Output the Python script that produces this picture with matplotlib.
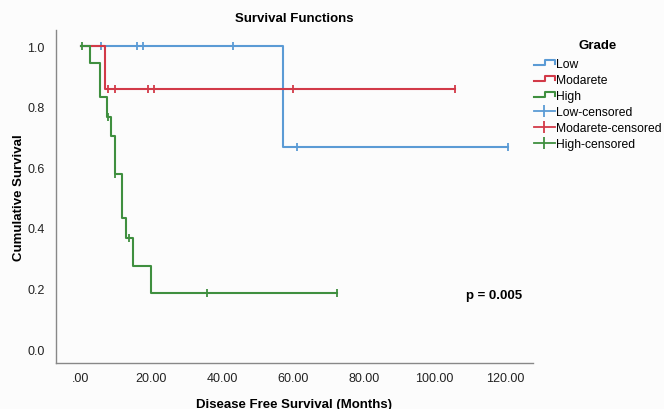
import numpy as np
import matplotlib
matplotlib.use("Agg")
import matplotlib.pyplot as plt
from matplotlib.lines import Line2D
from matplotlib.legend_handler import HandlerBase

plt.rcParams['font.family'] = ['Liberation Sans', 'DejaVu Sans']

# Kaplan-Meier step data
low_t = [0, 57.2, 120.8]
low_s = [1.0, 0.667, 0.667]
low_cens = [5.7, 15.9, 17.7, 43.0, 61.2, 120.8]

mod_t = [0, 6.9, 105.8]
mod_s = [1.0, 0.857, 0.857]
mod_cens = [7.6, 9.7, 18.9, 20.8, 60.0, 105.8]

high_t = [0, 2.6, 5.5, 7.5, 8.6, 9.6, 11.8, 12.9, 14.7, 19.8, 72.5]
high_s = [1.0, 0.944, 0.833, 0.765, 0.703, 0.578, 0.432, 0.365, 0.275, 0.185, 0.185]
high_cens = [0.3, 7.8, 9.8, 13.8, 35.7, 72.5]

groups = ["Low", "Modarete", "High"]
colors = ["#5b9bd5", "#d23a48", "#3f8f3f"]
xticks = [0, 20, 40, 60, 80, 100, 120]
xticklabels = [".00", "20.00", "40.00", "60.00", "80.00", "100.00", "120.00"]
yticks = [0.0, 0.2, 0.4, 0.6, 0.8, 1.0]


def step_value(t, s, x):
    idx = np.searchsorted(t, x, side='right') - 1
    return np.array(s)[idx]


class StepHandler(HandlerBase):
    def create_artists(self, legend, orig_handle, xdescent, ydescent,
                       width, height, fontsize, trans):
        x = np.array([0, 0.55, 0.55, 1.0, 1.0]) * width - xdescent
        y = np.array([0.2, 0.2, 0.8, 0.8, 0.35]) * height - ydescent
        ln = Line2D(x, y, color=orig_handle.get_color(), lw=orig_handle.get_linewidth(),
                    transform=trans)
        return [ln]


fig = plt.figure(figsize=(6.64, 4.1), dpi=100)
fig.patch.set_facecolor('#fcfcfc')
ax = fig.add_axes([55.5 / 664, 1 - 364 / 410, (533 - 55.5) / 664, (364 - 31) / 410])
ax.set_facecolor('#fcfcfc')

data = [(low_t, low_s, low_cens), (mod_t, mod_s, mod_cens), (high_t, high_s, high_cens)]
step_handles = []
cens_handles = []
for (t, s, c), name, col in zip(data, groups, colors):
    ln, = ax.step(t, s, where='post', color=col, lw=1.5)
    step_handles.append(ln)
    ax.plot(c, step_value(t, s, c), ls='none', marker='|', ms=5.5, mew=1.3, color=col)
    cens_handles.append(Line2D([], [], color=col, lw=1.3, marker='|', ms=8, mew=1.3))

ax.set_xlim(-7.1, 127.8)
ax.set_ylim(-0.046, 1.053)
ax.set_xticks(xticks)
ax.set_xticklabels(xticklabels)
ax.set_yticks(yticks)
ax.set_yticklabels([f"{v:.1f}" for v in yticks])
ax.tick_params(length=0, labelsize=9, colors='#222222')
ax.tick_params(axis='x', pad=6.5)
ax.tick_params(axis='y', pad=8)
for side in ['top', 'right']:
    ax.spines[side].set_visible(False)
for side in ['left', 'bottom']:
    ax.spines[side].set_color('#888888')
    ax.spines[side].set_linewidth(1.0)

ax.set_xlabel("Disease Free Survival (Months)", fontsize=9.5, fontweight='bold', labelpad=10)
ax.set_ylabel("Cumulative Survival", fontsize=9.5, fontweight='bold', labelpad=1.5)
fig.text(294 / 664, 1 - 19 / 410, "Survival Functions", ha='center', va='center',
         fontsize=9.5, fontweight='bold')
ax.text(116.8, 0.18, "p = 0.005", ha='center', va='center', fontsize=9.5, fontweight='bold')

leg = fig.legend(step_handles + cens_handles,
                 groups + [g + "-censored" for g in groups],
                 loc='upper left', bbox_to_anchor=(528 / 664, 1 - 34 / 410),
                 frameon=False, fontsize=8.7, title="Grade",
                 title_fontproperties={'weight': 'bold', 'size': 9.5},
                 handlelength=1.7, handletextpad=0.15, labelspacing=0.33, borderpad=0,
                 handler_map={h: StepHandler() for h in step_handles})
leg._legend_box.sep = 5

plt.savefig("out.png", dpi=100, facecolor=fig.get_facecolor())
